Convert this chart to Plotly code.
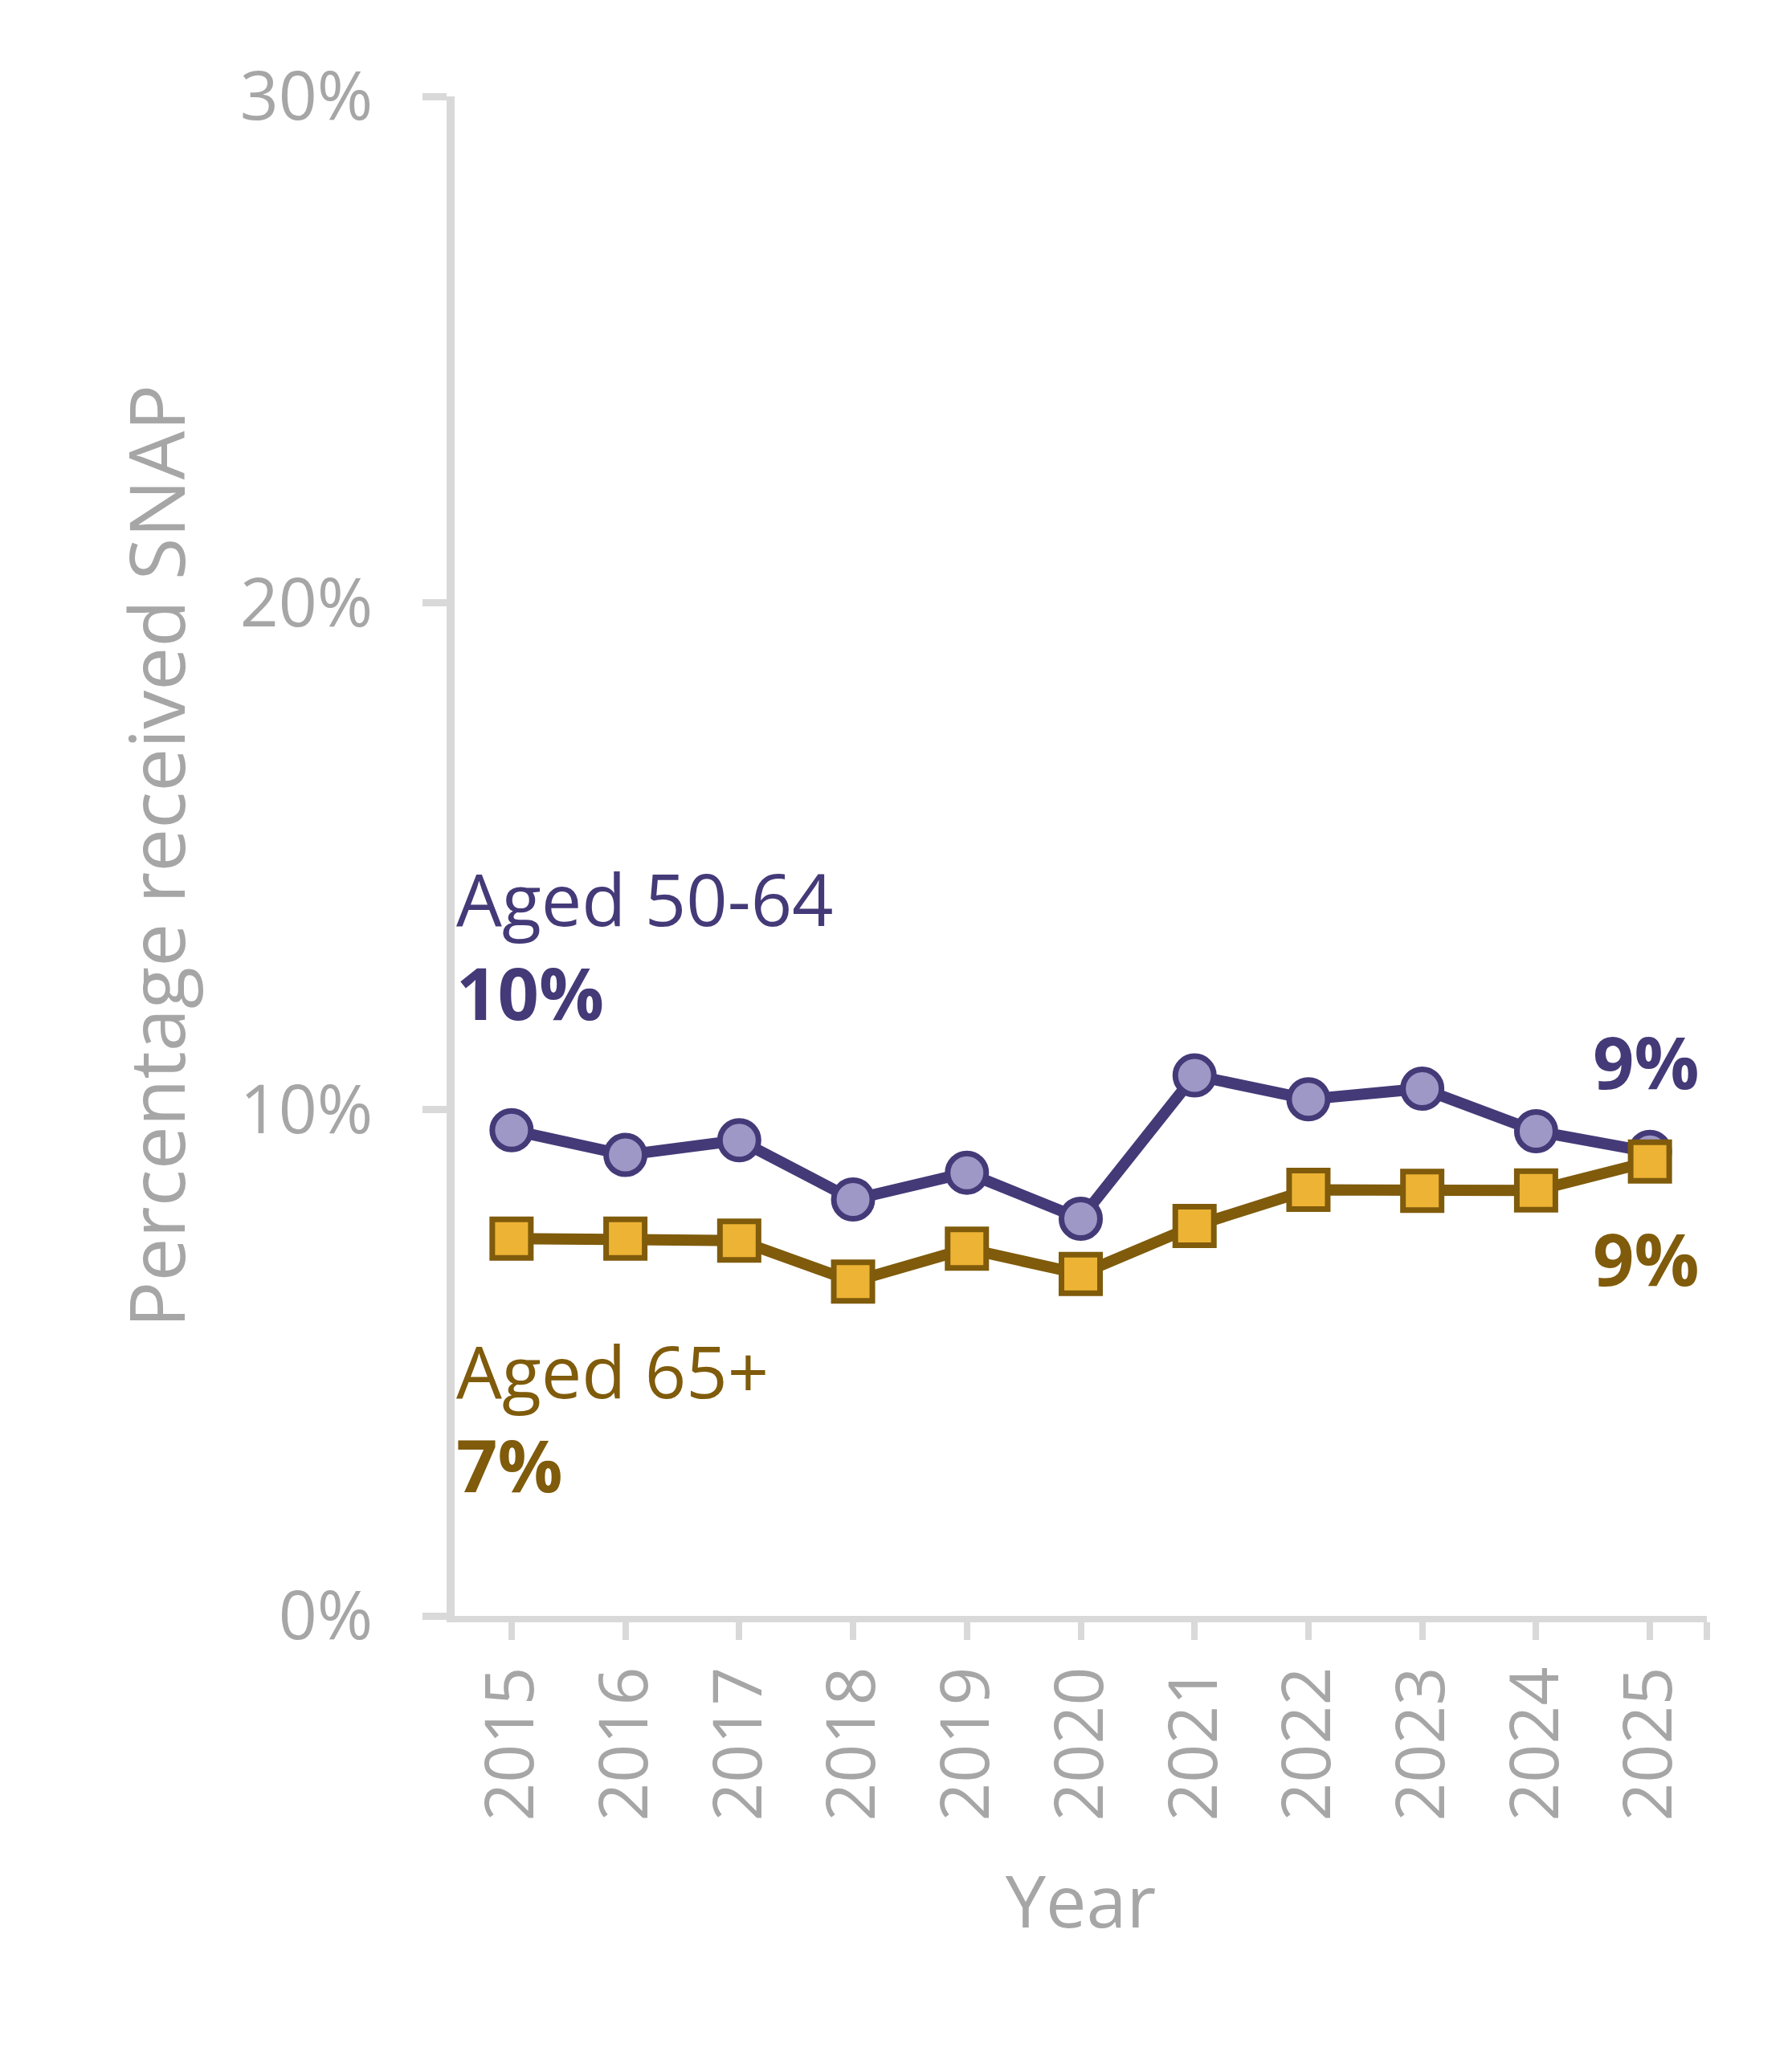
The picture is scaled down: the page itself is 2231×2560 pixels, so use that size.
import plotly.graph_objects as go

years = [2015, 2016, 2017, 2018, 2019, 2020, 2021, 2022, 2023, 2024, 2025]
aged_50_64 = [9.59, 9.10, 9.39, 8.22, 8.75, 7.84, 10.67, 10.20, 10.41, 9.57, 9.16]
aged_65_plus = [7.45, 7.45, 7.41, 6.60, 7.25, 6.75, 7.70, 8.41, 8.39, 8.40, 8.97]
y_ticks = [0, 10, 20, 30]
y_tick_text = ["0%", "10%", "20%", "30%"]

PURPLE = "#443a78"
PURPLE_FILL = "#9d98c6"
GOLD = "#7f5b0b"
GOLD_FILL = "#edb334"
GRAY_TEXT = "#a6a6a6"
AXIS = "#d9d9d9"
FONT = "Open Sans"

fig = go.Figure()
fig.add_trace(go.Scatter(
    x=years, y=aged_50_64, mode="lines+markers", name="Aged 50-64",
    line=dict(color=PURPLE, width=14),
    marker=dict(symbol="circle", size=48, color=PURPLE_FILL, line=dict(color=PURPLE, width=7)),
))
fig.add_trace(go.Scatter(
    x=years, y=aged_65_plus, mode="lines+markers", name="Aged 65+",
    line=dict(color=GOLD, width=14),
    marker=dict(symbol="square", size=48, color=GOLD_FILL, line=dict(color=GOLD, width=7)),
))

fig.add_annotation(x=2014.5, y=13.25, xref="x", yref="y",
                   text="Aged 50-64<br><b>10%</b>", showarrow=False,
                   xanchor="left", yanchor="middle", align="left",
                   font=dict(family=FONT, size=90, color=PURPLE))
fig.add_annotation(x=2014.5, y=3.92, xref="x", yref="y",
                   text="Aged 65+<br><b>7%</b>", showarrow=False,
                   xanchor="left", yanchor="middle", align="left",
                   font=dict(family=FONT, size=90, color=GOLD))
fig.add_annotation(x=2025.45, y=10.95, xref="x", yref="y",
                   text="<b>9%</b>", showarrow=False,
                   xanchor="right", yanchor="middle",
                   font=dict(family=FONT, size=90, color=PURPLE))
fig.add_annotation(x=2025.45, y=7.07, xref="x", yref="y",
                   text="<b>9%</b>", showarrow=False,
                   xanchor="right", yanchor="middle",
                   font=dict(family=FONT, size=90, color=GOLD))

fig.update_layout(
    width=2231, height=2560,
    margin=dict(l=558, r=114, t=112, b=556),
    paper_bgcolor="white", plot_bgcolor="white",
    showlegend=False,
    font=dict(family=FONT, color=GRAY_TEXT),
)
fig.update_xaxes(
    range=[2014.5, 2025.5],
    tickvals=years + [2025.5], ticktext=[str(y) for y in years] + [""],
    tickangle=-90, tickfont=dict(size=84, color=GRAY_TEXT, family=FONT),
    ticks="outside", ticklen=22, tickwidth=8, tickcolor=AXIS,
    showline=True, linecolor=AXIS, linewidth=8,
    showgrid=False, zeroline=False, ticklabelstandoff=0,
    title=dict(text="Year", font=dict(size=90, color=GRAY_TEXT, family=FONT), standoff=73),
)
fig.update_yaxes(
    range=[0, 30],
    tickvals=y_ticks, ticktext=y_tick_text,
    tickfont=dict(size=84, color=GRAY_TEXT, family=FONT),
    ticks="outside", ticklen=30, tickwidth=9, tickcolor=AXIS,
    showline=True, linecolor=AXIS, linewidth=10,
    showgrid=False, zeroline=False, ticklabelstandoff=45,
    title=dict(text="Percentage received SNAP", font=dict(size=96, color=GRAY_TEXT, family=FONT), standoff=40),
)

fig.write_html("out.html")
